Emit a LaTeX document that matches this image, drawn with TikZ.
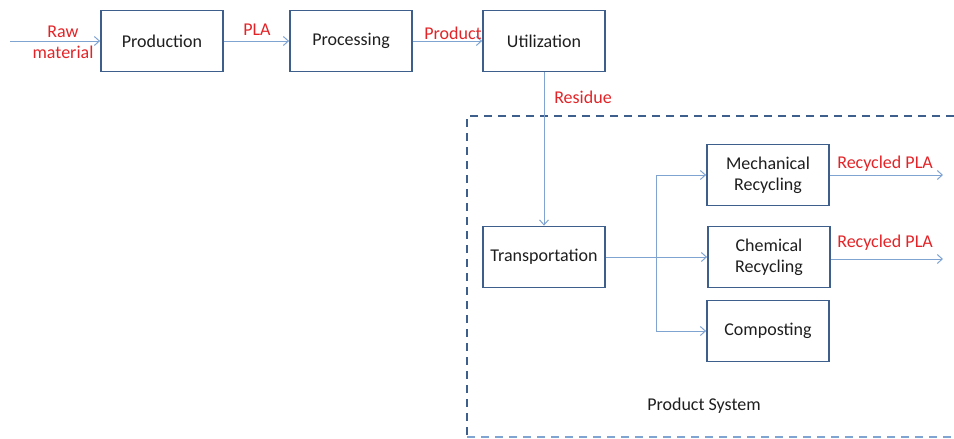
\documentclass[tikz,border=0pt]{standalone}
\usepackage{fontspec}
\setmainfont{Carlito}
\usetikzlibrary{arrows.meta}

\definecolor{boxblue}{RGB}{62,94,140}
\definecolor{flowblue}{RGB}{128,164,210}
\definecolor{labelred}{RGB}{226,36,40}
\definecolor{textgray}{RGB}{30,30,30}

\begin{document}
\begin{tikzpicture}[x=1pt,y=-1pt,
  every node/.style={font=\fontsize{18}{21}\selectfont,text=textgray},
  stage/.style={draw=boxblue,line width=1.8pt,minimum width=122pt,minimum height=61pt,align=center,inner sep=2pt},
  flow/.style={draw=flowblue,line width=1pt,-{Straight Barb[length=5pt,width=9pt]}},
  lbl/.style={text=labelred,inner sep=0pt,align=center}]

\useasboundingbox (0,0) rectangle (954,439);

\draw[boxblue,line width=1.8pt,dash pattern=on 8pt off 6pt] (954,116) -- (467,116) -- (467,437);
\draw[flowblue,line width=1.8pt,dash pattern=on 8pt off 6pt] (467,437) -- (954,437);

\node[stage] (prod) at (162,41) {Production};
\node[stage] (proc) at (351,41) {Processing};
\node[stage] (util) at (544,41) {Utilization};
\node[stage] (trans) at (544,257) {Transportation};
\node[stage] (mech) at (768,175) {Mechanical\\Recycling};
\node[stage] (chem) at (769,257) {Chemical\\Recycling};
\node[stage] (comp) at (768,331) {Composting};

\coordinate (in) at (10,41);
\coordinate (split) at (656,257);
\coordinate (out1) at (943,175);
\coordinate (out2) at (943,259);

\draw[flow] (in) -- (prod.west);
\draw[flow] (prod.east) -- (proc.west);
\draw[flow] (proc.east) -- (util.west);
\draw[flow] (util.south) -- (trans.north);
\draw[flow] (trans.east) -- (chem.west);
\draw[flow] (split) |- (mech.west);
\draw[flow] (split) |- (comp.west);
\draw[flow] (mech.east) -- (out1);
\draw[flow] (chem.east |- out2) -- (out2);

\node[lbl] (rawlbl) at (63,42) {Raw\\material};
\node[lbl] (plalbl) at (257,30) {PLA};
\node[lbl] (prodlbl) at (453,33) {Product};
\node[lbl] (reslbl) at (583,97) {Residue};
\node[lbl] (rec1lbl) at (885,164) {Recycled PLA};
\node[lbl] (rec2lbl) at (885,243) {Recycled PLA};
\node (syslbl) at (704,406) {Product System};

\end{tikzpicture}
\end{document}
